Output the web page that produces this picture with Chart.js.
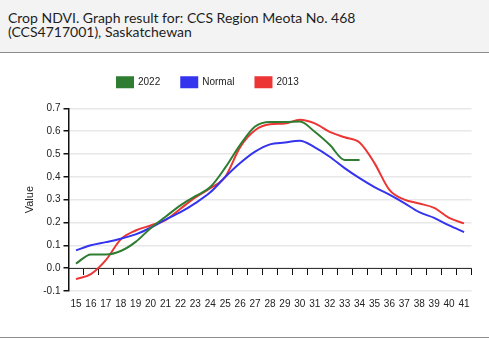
<!DOCTYPE html>
<html>
<head>
<meta charset="utf-8">
<script src="https://cdn.jsdelivr.net/npm/chart.js@4.4.0/dist/chart.umd.min.js"></script>
<style>
body{margin:0;background:#fff;width:489px;height:338px;overflow:hidden;}
#head{height:41px;padding:11px 0 0 8px;background:#f3f3f3;border-bottom:1px solid #8c8c8c;font:14px/14px Lato,sans-serif;color:#1e1e1e;}
#wrap{position:relative;width:489px;height:284px;border-bottom:1px solid #8c8c8c;}
</style>
</head>
<body>
<div id="head">Crop NDVI. Graph result for: CCS Region Meota No. 468<br>(CCS4717001), Saskatchewan</div>
<div id="wrap"><canvas id="chart"></canvas></div>
<script>
// weeks shown on the x axis
const weeks=['15','16','17','18','19','20','21','22','23','24','25','26','27','28','29','30','31','32','33','34','35','36','37','38','39','40','41'];

// NDVI values
const ndvi2022=[0.02,0.06,0.06,0.075,0.115,0.175,0.225,0.275,0.315,0.355,0.44,0.54,0.62,0.64,0.64,0.642,0.597,0.54,0.474,0.474];
const ndviNormal=[0.078,0.1,0.114,0.129,0.148,0.177,0.213,0.245,0.285,0.332,0.399,0.46,0.51,0.542,0.55,0.558,0.529,0.488,0.438,0.394,0.355,0.322,0.285,0.245,0.22,0.187,0.158];
const ndvi2013=[-0.048,-0.026,0.035,0.126,0.165,0.187,0.21,0.26,0.31,0.35,0.4,0.53,0.604,0.63,0.633,0.65,0.634,0.597,0.573,0.55,0.46,0.343,0.3,0.283,0.264,0.22,0.196];

const yTicks={min:-0.1,max:0.7,step:0.1};

const axisFont={family:'Arial',size:10};

// put the legend where the original has it
const legendSpot={
    id:'legendSpot',
    beforeDraw(chart){
        chart.legend.left=96;
        chart.legend.top=3.3;
    }
};

let chart=document.getElementById("chart");

new Chart(chart,{
    type:'line',
    data:{
        labels:weeks,
        datasets:[
            {label:'2022',data:ndvi2022,borderColor:'#2f7d32',backgroundColor:'#2f7d32'},
            {label:'Normal',data:ndviNormal,borderColor:'#3434ee',backgroundColor:'#3434ee'},
            {label:'2013',data:ndvi2013,borderColor:'#ec3535',backgroundColor:'#ec3535'}
        ]
    },
    options:{
        responsive:true,
        maintainAspectRatio:false,
        animation:false,
        layout:{padding:{top:14.3,right:17.5,bottom:22,left:0}},
        elements:{
            line:{borderWidth:2,cubicInterpolationMode:'monotone',fill:false},
            point:{radius:0,hoverRadius:0}
        },
        plugins:{
            tooltip:{enabled:false},
            legend:{
                align:'start',
                labels:{boxWidth:16,boxHeight:10,padding:21,color:'#222',font:axisFont}
            }
        },
        scales:{
            x:{
                type:'category',
                offset:true,
                grid:{display:false,drawTicks:false},
                border:{display:false},
                ticks:{color:'#222',font:axisFont,padding:7,maxRotation:0,autoSkip:false},
                afterFit:s=>{s.height=24;}
            },
            x2:{
                type:'category',
                axis:'x',
                position:{y:0},
                offset:true,
                grid:{offset:true,drawOnChartArea:false,tickLength:6,tickColor:'#111'},
                border:{color:'#333',width:1},
                ticks:{display:false}
            },
            y:{
                min:yTicks.min,
                max:yTicks.max,
                ticks:{
                    stepSize:yTicks.step,
                    callback:v=>(Math.abs(v)<1e-9?0:Number(v)).toFixed(1),
                    padding:3,color:'#222',font:axisFont
                },
                grid:{color:'#e8e8e8',lineWidth:1.5,tickColor:'#111',tickLength:5},
                border:{color:'#111',width:1.5},
                title:{display:true,text:'Value',color:'#222',font:{family:'Arial',size:11},padding:{top:23,bottom:4}},
                afterFit:s=>{s.width=68.5;}
            }
        }
    },
    plugins:[legendSpot]
});
</script>
</body>
</html>
